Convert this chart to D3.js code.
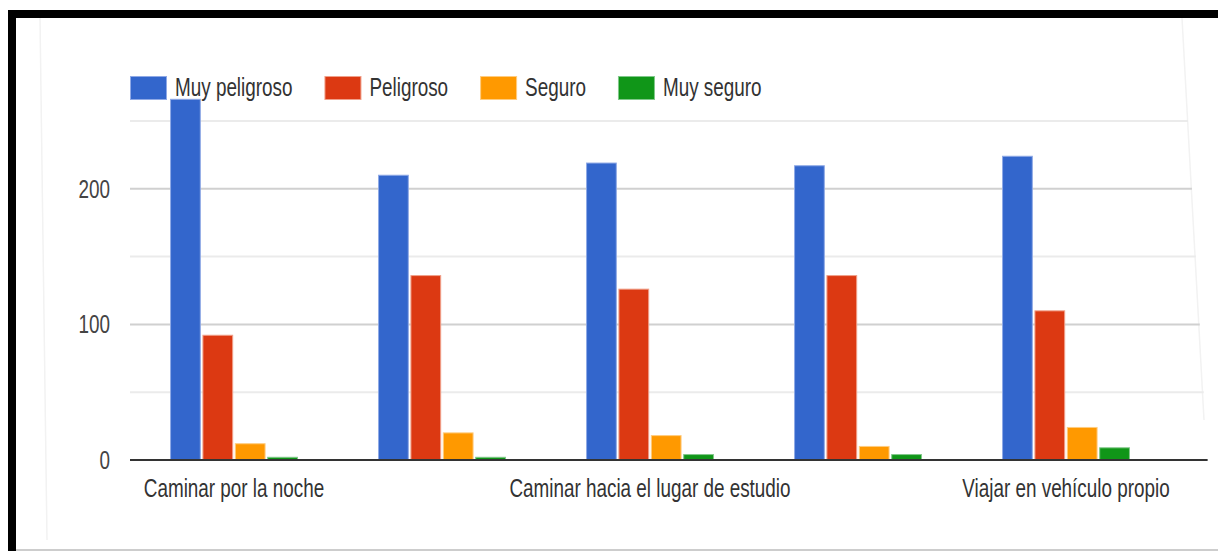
<!DOCTYPE html>
<html>
<head>
<meta charset="utf-8">
<script src="https://cdn.jsdelivr.net/npm/d3@7"></script>
<style>
  html, body { margin: 0; padding: 0; background: #fff; }
  svg { display: block; }
  text { font-family: "Liberation Sans", Arial, sans-serif; }
</style>
</head>
<body>
<svg id="chart" width="1218" height="551"></svg>
<script>
// ---- data ----
const categories = [
  "Caminar por la noche",
  "Caminar durante el día",
  "Caminar hacia el lugar de estudio",
  "Viajar en transporte público",
  "Viajar en vehículo propio"
];
const shownCategoryIndex = [0, 2, 4];
const seriesNames = ["Muy peligroso", "Peligroso", "Seguro", "Muy seguro"];
const muyPeligroso = [266, 210, 219, 217, 224];
const peligroso    = [92, 136, 126, 136, 110];
const seguro       = [12, 20, 18, 10, 24];
const muySeguro    = [2, 2, 4, 4, 9];
const seriesValues = [muyPeligroso, peligroso, seguro, muySeguro];
const yTicks = [0, 50, 100, 150, 200, 250];
const yTickLabels = ["0", "", "100", "", "200", ""];

const colors  = ["#3366cc", "#dc3912", "#ff9900", "#109618"];
const strokes = ["#8fa9e6", "#f0a08a", "#ffcc80", "#80c88a"];

// ---- layout ----
const svg = d3.select("#chart");
const plot = { left: 130, right: 1170, top: 121, bottom: 460 };
const textScaleX = 0.755;
const fontSize = 25;
const textColor = "#333";

// background frame
svg.append("rect").attr("x", 0).attr("y", 0).attr("width", 1218).attr("height", 551).attr("fill", "#fff");
// faint artifacts
svg.append("line").attr("x1", 40).attr("y1", 18).attr("x2", 47).attr("y2", 540)
  .attr("stroke", "#f2f2f2").attr("stroke-width", 1.5);
svg.append("line").attr("x1", 1182).attr("y1", 18).attr("x2", 1204).attr("y2", 420)
  .attr("stroke", "#f2f2f2").attr("stroke-width", 1.5);
svg.append("line").attr("x1", 16).attr("y1", 550).attr("x2", 1218).attr("y2", 550)
  .attr("stroke", "#bdbdbd").attr("stroke-width", 1.5);
// black border top + left
svg.append("rect").attr("x", 8).attr("y", 10).attr("width", 1210).attr("height", 8).attr("fill", "#000");
svg.append("rect").attr("x", 8).attr("y", 10).attr("width", 8).attr("height", 541).attr("fill", "#000");

// scales
const x0 = d3.scaleBand().domain(d3.range(categories.length))
  .range([plot.left, plot.right]).paddingInner(0.385).paddingOuter(0.1925);
const x1 = d3.scaleBand().domain(d3.range(seriesNames.length))
  .range([0, x0.bandwidth()]).paddingInner(0.05);
const y = d3.scaleLinear().domain([0, 250]).range([plot.bottom, plot.top]);

// gridline right end follows the slight skew of the reference photo
const gridEnd = yy => 1182 + (yy - 18) * 0.058;

// gridlines
const grid = svg.append("g");
yTicks.filter(t => t !== 0).forEach(t => {
  const yy = y(t);
  grid.append("line")
    .attr("x1", plot.left).attr("x2", gridEnd(yy))
    .attr("y1", yy).attr("y2", yy)
    .attr("stroke", t % 100 === 0 ? "#d0d0d0" : "#ebebeb")
    .attr("stroke-width", 2);
});

// y tick labels
yTicks.forEach((t, i) => {
  if (!yTickLabels[i]) return;
  svg.append("g")
    .attr("transform", `translate(110,${y(t)}) scale(${textScaleX},1)`)
    .append("text")
    .attr("text-anchor", "end").attr("dy", "0.36em")
    .attr("font-size", fontSize).attr("fill", "#444")
    .text(yTickLabels[i]);
});

// bars
const groups = svg.append("g").selectAll("g")
  .data(categories).join("g")
  .attr("transform", (d, i) => `translate(${x0(i)},0)`);
groups.selectAll("rect")
  .data((d, i) => seriesValues.map((vals, s) => ({ s, v: vals[i] })))
  .join("rect")
  .attr("x", d => x1(d.s) + 0.5)
  .attr("width", x1.bandwidth() - 1)
  .attr("y", d => y(d.v))
  .attr("height", d => y(0) - y(d.v))
  .attr("fill", d => colors[d.s])
  .attr("stroke", d => strokes[d.s])
  .attr("stroke-width", 1);

// baseline
svg.append("line")
  .attr("x1", plot.left).attr("x2", gridEnd(y(0)))
  .attr("y1", y(0)).attr("y2", y(0))
  .attr("stroke", "#333").attr("stroke-width", 2);

// category labels
shownCategoryIndex.forEach(i => {
  svg.append("g")
    .attr("transform", `translate(${x0(i) + x0.bandwidth() / 2},497) scale(${textScaleX},1)`)
    .append("text")
    .attr("text-anchor", "middle")
    .attr("font-size", fontSize).attr("fill", textColor)
    .text(categories[i]);
});

// legend
const legend = svg.append("g");
let lx = plot.left;
seriesNames.forEach((name, s) => {
  legend.append("rect")
    .attr("x", lx + 0.5).attr("y", 76.5).attr("width", 36).attr("height", 23)
    .attr("fill", colors[s]).attr("stroke", strokes[s]).attr("stroke-width", 1);
  const g = legend.append("g")
    .attr("transform", `translate(${lx + 45},96) scale(${textScaleX},1)`);
  const t = g.append("text")
    .attr("font-size", fontSize).attr("fill", textColor)
    .text(name);
  const w = t.node().getComputedTextLength() * textScaleX;
  lx += 45 + w + 32;
});
</script>
</body>
</html>
